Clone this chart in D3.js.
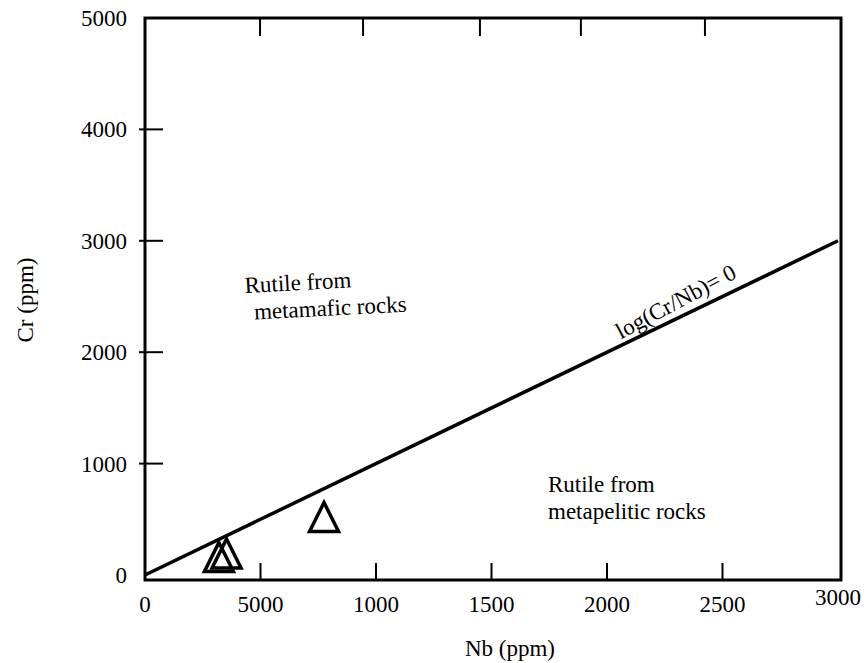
<!DOCTYPE html>
<html>
<head>
<meta charset="utf-8">
<script src="https://cdn.jsdelivr.net/npm/d3@7"></script>
<style>
body { margin: 0; background: #fff; }
svg text { font-family: 'Liberation Serif', 'DejaVu Serif', 'Noto Serif', 'Times New Roman', Times, serif; font-size: 23px; fill: #000; }
</style>
</head>
<body>
<div id="chart"></div>
<script>
// tick values + labels (the 500 label really reads "5000" in the original)
var xTickValues = [0, 500, 1000, 1500, 2000, 2500, 3000];
var xTickLabels = ['0', '5000', '1000', '1500', '2000', '2500', '3000'];
var yTickValues = [0, 1000, 2000, 3000, 4000, 5000];
var yTickLabels = ['0', '1000', '2000', '3000', '4000', '5000'];
// top ticks are hand drawn, not quite lined up with the bottom ones
var topTickValues = [498, 944, 1450, 1887, 2424];

// samples (triangles)
var nbValues = [775, 320, 353];
var crValues = [520, 162, 193];

// log(Cr/Nb) = 0  ->  Cr = Nb
var boundaryNb = [0, 3000];
var boundaryCr = [0, 3000];

var width = 866, height = 663;

var x = d3.scaleLinear().domain([0, 3013]).range([145, 841]);
var y = d3.scaleLinear().domain([-45, 5000]).range([580, 18]);

var svg = d3.select('#chart')
    .append('svg')
    .attr('width', width)
    .attr('height', height);

// frame
svg.append('rect')
    .attr('x', x(0))
    .attr('y', y(5000))
    .attr('width', x(3013) - x(0))
    .attr('height', y(-45) - y(5000))
    .attr('fill', 'none')
    .attr('stroke', '#000')
    .attr('stroke-width', 3);

// bottom ticks
svg.selectAll('.btick')
    .data(xTickValues.slice(1, -1))
    .enter()
    .append('line')
    .attr('x1', function(d) { return x(d); })
    .attr('x2', function(d) { return x(d); })
    .attr('y1', y(-45))
    .attr('y2', y(-45) - 17)
    .attr('stroke', '#000')
    .attr('stroke-width', 2);

// top ticks
svg.selectAll('.ttick')
    .data(topTickValues)
    .enter()
    .append('line')
    .attr('x1', function(d) { return x(d); })
    .attr('x2', function(d) { return x(d); })
    .attr('y1', y(5000))
    .attr('y2', y(5000) + 18)
    .attr('stroke', '#000')
    .attr('stroke-width', 2);

// left ticks
svg.selectAll('.ltick')
    .data(yTickValues.slice(1, -1))
    .enter()
    .append('line')
    .attr('x1', x(0) - 6)
    .attr('x2', x(0) + 18)
    .attr('y1', function(d) { return y(d); })
    .attr('y2', function(d) { return y(d); })
    .attr('stroke', '#000')
    .attr('stroke-width', 2);

// x tick labels
svg.selectAll('.xlab')
    .data(xTickValues)
    .enter()
    .append('text')
    .attr('x', function(d) { return x(d); })
    .attr('y', function(d, i) { return i === xTickValues.length - 1 ? 605 : 612; })
    .attr('text-anchor', 'middle')
    .text(function(d, i) { return xTickLabels[i]; });

// y tick labels
svg.selectAll('.ylab')
    .data(yTickValues)
    .enter()
    .append('text')
    .attr('x', 127)
    .attr('y', function(d) { return y(d) + 8; })
    .attr('text-anchor', 'end')
    .text(function(d, i) { return yTickLabels[i]; });

// axis titles
svg.append('text')
    .attr('x', 510)
    .attr('y', 656)
    .attr('text-anchor', 'middle')
    .text('Nb (ppm)');

svg.append('text')
    .attr('transform', 'translate(33,300) rotate(-90)')
    .attr('text-anchor', 'middle')
    .text('Cr (ppm)');

// boundary line
var line = d3.line()
    .x(function(d) { return x(d[0]); })
    .y(function(d) { return y(d[1]); });

svg.append('path')
    .datum(d3.zip(boundaryNb, boundaryCr))
    .attr('d', line)
    .attr('fill', 'none')
    .attr('stroke', '#000')
    .attr('stroke-width', 3.5);

svg.append('text')
    .attr('transform', 'translate(' + x(2060) + ',' + (y(2060) - 6) + ') rotate(-28)')
    .text('log(Cr/Nb)= 0');

// field labels
var mafic = svg.append('text')
    .attr('transform', 'translate(245,293) rotate(-3)');
mafic.append('tspan').attr('x', 0).attr('y', 0).text('Rutile from');
mafic.append('tspan').attr('x', 8).attr('y', 27).text('metamafic rocks');

var pelitic = svg.append('text')
    .attr('transform', 'translate(548,492)');
pelitic.append('tspan').attr('x', 0).attr('y', 0).text('Rutile from');
pelitic.append('tspan').attr('x', 0).attr('y', 27).text('metapelitic rocks');

// open triangles
var triW = 29, triH = 29;
svg.selectAll('.tri')
    .data(d3.zip(nbValues, crValues))
    .enter()
    .append('path')
    .attr('d', function(d) {
        var cx = x(d[0]), cy = y(d[1]);
        return 'M' + cx + ',' + (cy - triH / 2) +
            'L' + (cx + triW / 2) + ',' + (cy + triH / 2) +
            'L' + (cx - triW / 2) + ',' + (cy + triH / 2) + 'Z';
    })
    .attr('fill', 'none')
    .attr('stroke', '#000')
    .attr('stroke-width', 3.5)
    .attr('stroke-linejoin', 'miter');
</script>
</body>
</html>
